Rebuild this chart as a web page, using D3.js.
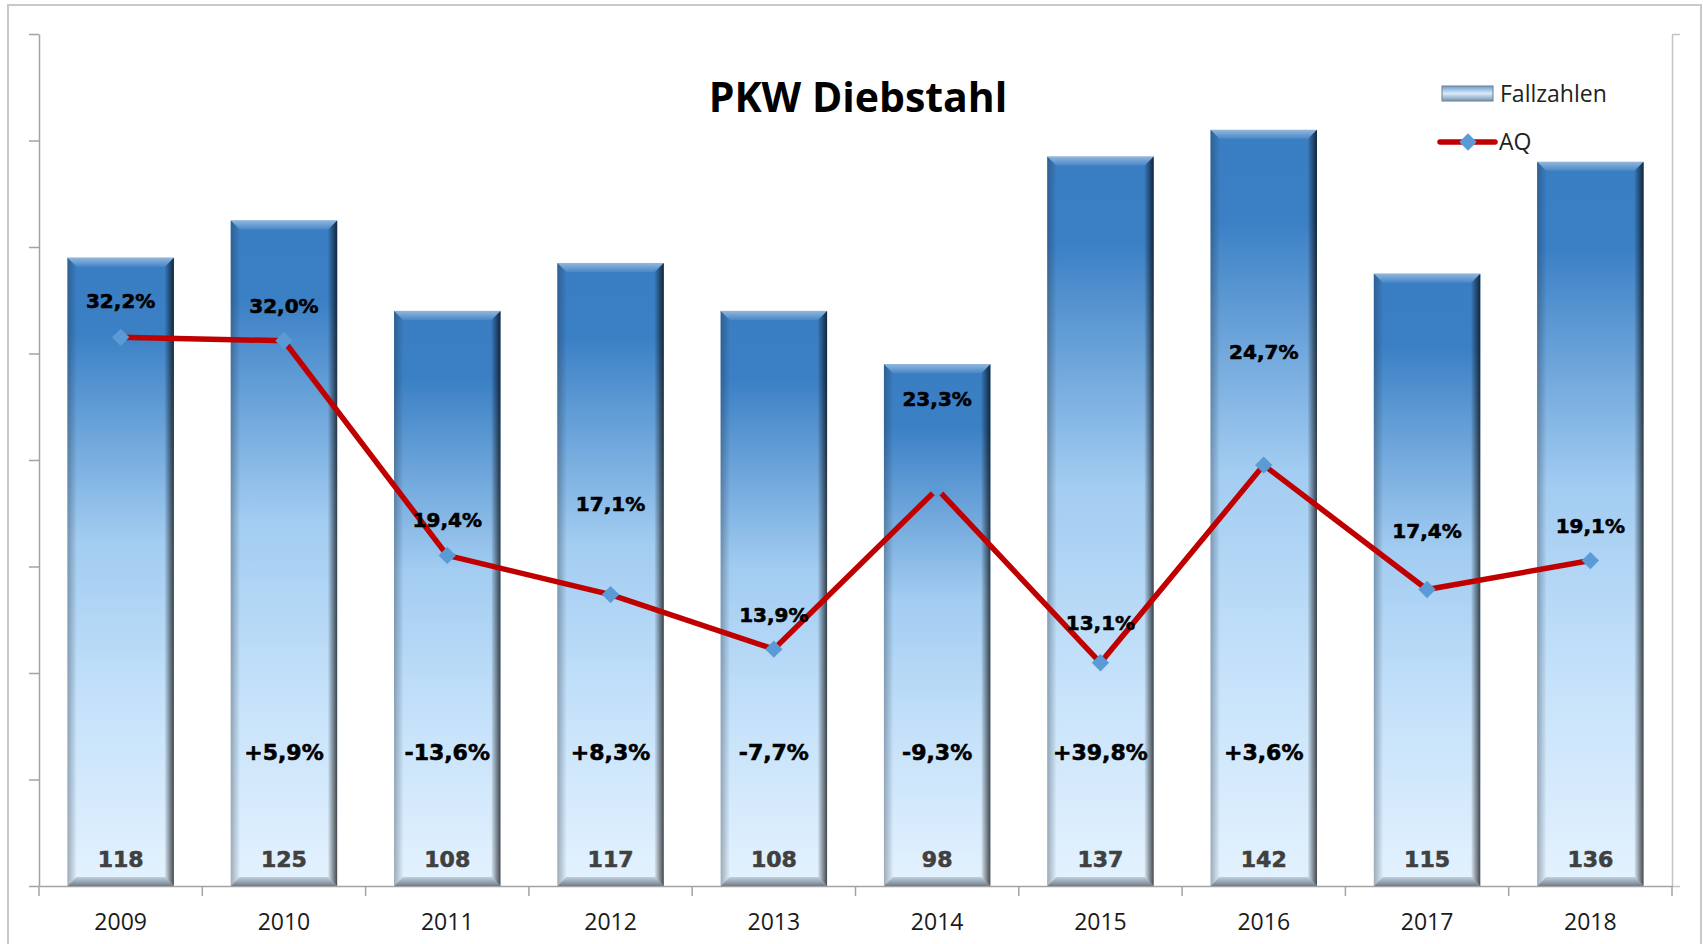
<!DOCTYPE html>
<html>
<head>
<meta charset="utf-8">
<script src="https://cdn.jsdelivr.net/npm/d3@7"></script>
<style>
  body { margin: 0; background: #fff; }
</style>
</head>
<body>
<div id="chart"></div>
<script>
// data
const years = ["2009", "2010", "2011", "2012", "2013", "2014", "2015", "2016", "2017", "2018"]
const fallzahlen = [118, 125, 108, 117, 108, 98, 137, 142, 115, 136]
const aq = [32.2, 32.0, 19.4, 17.1, 13.9, 23.3, 13.1, 24.7, 17.4, 19.1]
const changeLabels = [null, "+5,9%", "-13,6%", "+8,3%", "-7,7%", "-9,3%", "+39,8%", "+3,6%", null, null]
const yTicks = [0, 20, 40, 60, 80, 100, 120, 140, 160]
const aqTicks = [0, 50]

// label placement (px above the AQ point), moved by hand in the original
const aqLabelOffset = [-36, -35, -35, -91, -34, -90, -40, -113, -59, -35]

const width = 1703, height = 944
const plot = { left: 39, right: 1672, top: 34, bottom: 886 }

const svg = d3.select("#chart")
  .append("svg")
  .attr("width", width)
  .attr("height", height)

// outer frame
svg.append("rect")
  .attr("x", 8).attr("y", 5)
  .attr("width", 1693).attr("height", 960)
  .attr("fill", "none")
  .attr("stroke", "#c9c9c9")
  .attr("stroke-width", 2)

const defs = svg.append("defs")

function gradient(id, x2, y2, stops) {
  const g = defs.append("linearGradient")
    .attr("id", id)
    .attr("x1", 0).attr("y1", 0).attr("x2", x2).attr("y2", y2)
  stops.forEach(s => g.append("stop")
    .attr("offset", s[0]).attr("stop-color", s[1]).attr("stop-opacity", s[2] == null ? 1 : s[2]))
}
gradient("barBody", 0, 1, [[0, "#397dc2"], [0.12, "#3b80c5"], [0.45, "#a2ccf1"], [0.72, "#c6e2fa"], [1, "#e4f2fe"]])
gradient("bevTop", 0, 1, [[0, "#ffffff", 0.45], [1, "#ffffff", 0.08]])
gradient("bevRight", 1, 0, [[0, "#000000", 0.05], [1, "#000000", 0.7]])
gradient("bevLeft", 1, 0, [[0, "#1a2a3a", 0.35], [1, "#1a2a3a", 0.02]])
gradient("bevBottom", 0, 1, [[0, "#5a6a7a", 0.25], [1, "#4a5560", 0.75]])
gradient("legendSwatch", 0, 1, [[0, "#6d9ccb"], [0.5, "#d8eafa"], [1, "#7893ad"]])

// scales
const x = d3.scaleBand()
  .domain(years)
  .range([plot.left, plot.right])
  .paddingInner(0.348)
  .paddingOuter(0.174)

const y = d3.scaleLinear()
  .domain([0, 160])
  .range([plot.bottom, plot.top])

const yAq = d3.scaleLinear()
  .domain([0, 50])
  .range([plot.bottom, plot.top])

const axisColor = "#a3a3a3"

// left axis (no labels)
const yAxisGroup = svg.append("g")
  .attr("transform", `translate(${plot.left},0)`)
  .call(d3.axisLeft(y).tickValues(yTicks).tickFormat("").tickSize(10).tickSizeOuter(0))
yAxisGroup.selectAll("path, line").attr("stroke", axisColor).attr("stroke-width", 1.5)

// right axis for AQ (no labels)
const aqAxisGroup = svg.append("g")
  .attr("transform", `translate(${plot.right},0)`)
  .call(d3.axisRight(yAq).tickValues(aqTicks).tickFormat("").tickSize(8).tickSizeOuter(0))
aqAxisGroup.selectAll("path, line").attr("stroke", "#c4c4c4").attr("stroke-width", 1.5)

// x axis
const xAxisGroup = svg.append("g")
  .attr("transform", `translate(0,${plot.bottom})`)
  .call(d3.axisBottom(x).tickSize(0).tickSizeOuter(0))
xAxisGroup.select(".domain").attr("stroke", axisColor).attr("stroke-width", 1.5)
xAxisGroup.selectAll("text")
  .attr("dy", null)
  .attr("y", 35)
  .attr("dominant-baseline", "central")
  .attr("font-family", "'Open Sans', sans-serif")
  .attr("font-size", "23px")
  .attr("fill", "#1a1a1a")

// category boundary ticks
xAxisGroup.selectAll(".bound")
  .data(d3.range(years.length + 1))
  .join("line")
  .attr("class", "bound")
  .attr("x1", i => plot.left + i * x.step())
  .attr("x2", i => plot.left + i * x.step())
  .attr("y1", 0).attr("y2", 10)
  .attr("stroke", axisColor).attr("stroke-width", 1.5)

// bars with bevel
const b = 9
const bars = svg.append("g")
  .selectAll("g")
  .data(years.map((d, i) => ({ year: d, value: fallzahlen[i] })))
  .join("g")

bars.append("rect")
  .attr("x", d => x(d.year))
  .attr("y", d => y(d.value))
  .attr("width", x.bandwidth())
  .attr("height", d => y(0) - y(d.value))
  .attr("fill", "url(#barBody)")

function bevel(d, side) {
  const x0 = x(d.year), x1 = x0 + x.bandwidth()
  const y0 = y(d.value), y1 = y(0)
  const p = {
    top: [[x0, y0], [x1, y0], [x1 - b, y0 + b], [x0 + b, y0 + b]],
    right: [[x1 - b, y0 + b], [x1, y0], [x1, y1], [x1 - b, y1 - b]],
    left: [[x0, y0], [x0 + b, y0 + b], [x0 + b, y1 - b], [x0, y1]],
    bottom: [[x0 + b, y1 - b], [x1 - b, y1 - b], [x1, y1], [x0, y1]]
  }[side]
  return p.map(q => q.join(",")).join(" ")
}
bars.append("polygon").attr("points", d => bevel(d, "top")).attr("fill", "url(#bevTop)")
bars.append("polygon").attr("points", d => bevel(d, "left")).attr("fill", "url(#bevLeft)")
bars.append("polygon").attr("points", d => bevel(d, "bottom")).attr("fill", "url(#bevBottom)")
bars.append("polygon").attr("points", d => bevel(d, "right")).attr("fill", "url(#bevRight)")

// AQ line
const cx = d => x(d) + x.bandwidth() / 2
const aqData = years.map((d, i) => ({ year: d, value: aq[i], dy: aqLabelOffset[i] }))

svg.append("path")
  .datum(aqData)
  .attr("d", d3.line().x(d => cx(d.year)).y(d => yAq(d.value)))
  .attr("fill", "none")
  .attr("stroke", "#c00000")
  .attr("stroke-width", 5.5)
  .attr("stroke-linecap", "butt")

const diamond = d3.symbol(d3.symbolSquare, 150)
svg.append("g")
  .selectAll("path")
  .data(aqData)
  .join("path")
  .attr("d", diamond)
  .attr("transform", d => `translate(${cx(d.year)},${yAq(d.value)}) rotate(45)`)
  .attr("fill", "#5b9bd5")

const pct = v => d3.format(".1f")(v).replace(".", ",") + "%"
const labelFont = "'DejaVu Sans', Verdana, sans-serif"

// AQ labels
svg.append("g")
  .selectAll("text")
  .data(aqData)
  .join("text")
  .attr("x", d => cx(d.year))
  .attr("y", d => yAq(d.value) + d.dy)
  .attr("text-anchor", "middle")
  .attr("dominant-baseline", "central")
  .attr("font-family", labelFont)
  .attr("font-weight", "bold")
  .attr("font-size", "20px")
  .attr("fill", "#000")
  .attr("stroke", "#000")
  .attr("stroke-width", 0.6)
  .text(d => pct(d.value))

// change vs previous year
svg.append("g")
  .selectAll("text")
  .data(years.map((d, i) => ({ year: d, label: changeLabels[i] })).filter(d => d.label))
  .join("text")
  .attr("x", d => cx(d.year))
  .attr("y", y(25))
  .attr("text-anchor", "middle")
  .attr("dominant-baseline", "central")
  .attr("font-family", labelFont)
  .attr("font-weight", "bold")
  .attr("font-size", "22px")
  .attr("fill", "#000")
  .attr("stroke", "#000")
  .attr("stroke-width", 0.6)
  .text(d => d.label)

// case numbers at bar foot
svg.append("g")
  .selectAll("text")
  .data(years.map((d, i) => ({ year: d, value: fallzahlen[i] })))
  .join("text")
  .attr("x", d => cx(d.year))
  .attr("y", y(0) - 27)
  .attr("text-anchor", "middle")
  .attr("dominant-baseline", "central")
  .attr("font-family", labelFont)
  .attr("font-weight", "bold")
  .attr("font-size", "22px")
  .attr("fill", "#404040")
  .attr("stroke", "#404040")
  .attr("stroke-width", 0.6)
  .text(d => d.value)

// title
svg.append("text")
  .attr("x", 858)
  .attr("y", 112)
  .attr("text-anchor", "middle")
  .attr("font-family", "'Open Sans', sans-serif")
  .attr("font-weight", "bold")
  .attr("font-size", "41px")
  .attr("fill", "#000")
  .text("PKW Diebstahl")

// legend
const legend = svg.append("g")
legend.append("rect")
  .attr("x", 1442).attr("y", 86)
  .attr("width", 51).attr("height", 15)
  .attr("fill", "url(#legendSwatch)")
  .attr("stroke", "#6a7f95")
  .attr("stroke-width", 1)
legend.append("text")
  .attr("x", 1500).attr("y", 102)
  .attr("font-family", "'Open Sans', sans-serif")
  .attr("font-size", "23px")
  .attr("fill", "#222")
  .text("Fallzahlen")
legend.append("line")
  .attr("x1", 1440).attr("x2", 1495)
  .attr("y1", 142).attr("y2", 142)
  .attr("stroke", "#c00000")
  .attr("stroke-width", 5.5)
  .attr("stroke-linecap", "round")
legend.append("path")
  .attr("d", diamond)
  .attr("transform", "translate(1468,142) rotate(45)")
  .attr("fill", "#5b9bd5")
legend.append("text")
  .attr("x", 1499).attr("y", 150)
  .attr("font-family", "'Open Sans', sans-serif")
  .attr("font-size", "23px")
  .attr("fill", "#222")
  .text("AQ")
</script>
</body>
</html>
